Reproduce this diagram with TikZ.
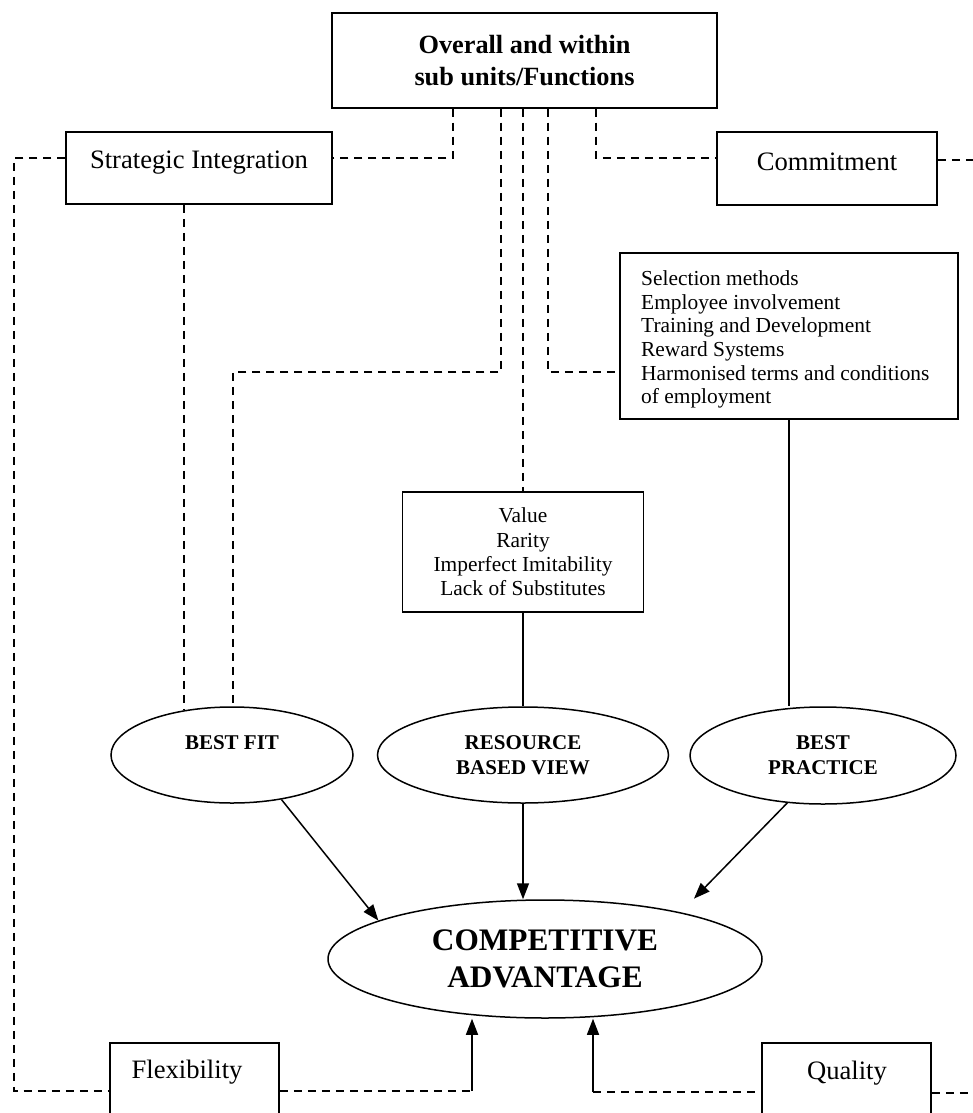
\documentclass[tikz,border=0pt]{standalone}
\usepackage{fontspec}
\setmainfont{Liberation Serif}
\usetikzlibrary{shapes.geometric,arrows.meta}
\begin{document}
\begin{tikzpicture}[x=1pt,y=-1pt,
  box/.style={draw, line width=1.5pt, inner sep=0pt},
  oval/.style={draw, ellipse, line width=1.5pt, inner sep=0pt, align=center, font=\fontsize{21}{25}\selectfont\bfseries},
  lab/.style={inner sep=0pt, font=\fontsize{26.6}{32}\selectfont},
  dsh/.style={line width=1.5pt, dash pattern=on 8pt off 6pt},
  sol/.style={line width=1.5pt},
  arr/.style={line width=1.5pt, -{Triangle[length=16pt,width=12pt]}},
]
\useasboundingbox (0,0) rectangle (973,1113);
\clip (0,0) rectangle (973,1113);

% boxes
\node[box, minimum width=385pt, minimum height=95pt, align=center,
      font=\fontsize{26.3}{32}\selectfont\bfseries] (top) at (524.5,60.5)
      {Overall and within\\sub units/Functions};
\node[box, minimum width=266pt, minimum height=72pt] (si) at (199,168) {};
\node[lab, anchor=base] (sit) at (199,168) {Strategic Integration};
\node[box, minimum width=220pt, minimum height=73pt] (cm) at (827,168.5) {};
\node[lab, anchor=base] (cmt) at (827,170) {Commitment};

\node[box, minimum width=338pt, minimum height=166pt] (pl) at (789,336) {};
\node[anchor=north west, align=left, inner sep=0pt,
      font=\fontsize{21.4}{23.7}\selectfont] (plt) at (641,270.4)
      {Selection methods\\Employee involvement\\Training and Development\\Reward Systems\\Harmonised terms and conditions\\of employment};

\node[box, minimum width=241pt, minimum height=120pt, align=center,
      font=\fontsize{21.4}{24.3}\selectfont] (rv) at (523,552)
      {Value\\Rarity\\Imperfect Imitability\\Lack of Substitutes};

% ellipses
\node[oval, minimum width=242pt, minimum height=96pt] (bf) at (232,755) {BEST FIT\\\mbox{}};
\node[oval, minimum width=291pt, minimum height=96pt] (rbv) at (523,755) {RESOURCE\\BASED VIEW};
\node[oval, minimum width=266pt, minimum height=97pt] (bp) at (823,755.5) {BEST\\PRACTICE};
\node[oval, minimum width=434pt, minimum height=118pt,
      font=\fontsize{31.3}{37}\selectfont\bfseries] (ca) at (545,959) {COMPETITIVE\\ADVANTAGE};

% bottom boxes
\node[box, minimum width=169pt, minimum height=100pt] (fl) at (194.5,1093) {};
\node[lab, anchor=base] (flt) at (187,1078) {Flexibility};
\node[box, minimum width=169pt, minimum height=100pt] (ql) at (846.5,1093) {};
\node[lab, anchor=base] (qlt) at (847,1079) {Quality};

% corner coordinates
\coordinate (ha) at (453,158);
\coordinate (hb) at (596,158);
\coordinate (hl) at (14,158);
\coordinate (hlb) at (14,1091);
\coordinate (m1) at (501,372);
\coordinate (m1b) at (233,372);
\coordinate (m3) at (548,372);
\coordinate (c1) at (472,1091);
\coordinate (c2) at (593,1092);
\coordinate (er1) at (973,160);
\coordinate (er2) at (973,1093);

% dashed connectors
\draw[dsh] (top.south -| ha) -- (ha) -- (ha -| si.east);
\draw[dsh] (top.south -| hb) -- (hb) -- (hb -| cm.west);
\draw[dsh] (si.west |- hl) -- (hl) -- (hlb) -- (hlb -| fl.west);
\draw[dsh] (bf.137.5 |- si.south) -- (bf.137.5);
\draw[dsh] (top.south -| m1) -- (m1) -- (m1b) -- (m1b |- bf.north);
\draw[dsh] (rv.north |- top.south) -- (rv.north);
\draw[dsh] (top.south -| m3) -- (m3) -- (m3 -| pl.west);
\draw[dsh] (cm.east |- er1) -- (er1);
\draw[dsh] (fl.east |- c1) -- (c1);
\draw[dsh] (c2) -- (c2 -| ql.west);
\draw[dsh] (ql.east |- er2) -- (er2);

% solid connectors
\draw[sol] (rv.south) -- (rv.south |- rbv.north);
\draw[sol] (pl.south) -- (pl.south |- bp.north);

% arrows
\draw[arr] (bf.-42.5) -- (ca.167.7);
\draw[arr] (rbv.south) -- (rbv.south |- ca.north);
\draw[arr, shorten >=19pt] (bp.-127.5) -- (ca.19.4);
\draw[arr] (c1) -- (c1 |- ca.south);
\draw[arr] (c2) -- (c2 |- ca.south);
\end{tikzpicture}
\end{document}
